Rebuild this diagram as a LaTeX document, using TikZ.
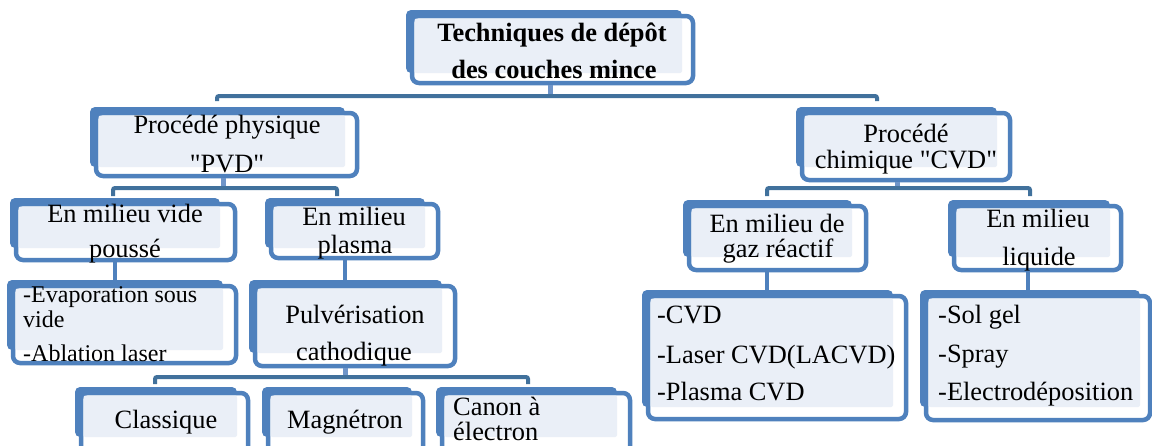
\documentclass[tikz,border=0pt]{standalone}
\usepackage{fontspec}
\setmainfont{Liberation Serif}[Ligatures=TeXOff]
\usetikzlibrary{fit}
\definecolor{bblue}{HTML}{4F81BD}
\definecolor{dblue}{HTML}{41719C}
\definecolor{sblue}{HTML}{6F95C9}
\definecolor{lfill}{HTML}{EAEFF7}
\newcommand\tbox[7]{%
  \fill[bblue, rounded corners=5pt] (#2,#3) rectangle (#4,#5);
  \draw[bblue, line width=4.5pt, fill=white, rounded corners=7pt] (#2+6,#3+6) rectangle (#6-2,#7-2);
  \fill[lfill, rounded corners=2pt] (#2+8.5,#3+8.5) rectangle (#4,#5);
  \coordinate (#1-nw) at (#2+4,#3+4);
  \coordinate (#1-se) at (#6,#7);
  \node[fit=(#1-nw)(#1-se), inner sep=0pt] (#1) {};
}
\tikzset{
  t/.style={inner sep=0pt, anchor=base, font=\fontsize{26.4}{30}\selectfont},
  tb/.style={t, font=\fontsize{26.4}{30}\selectfont\bfseries},
  tl/.style={t, anchor=base west},
  ts/.style={inner sep=0pt, anchor=base west, font=\fontsize{24}{28}\selectfont},
  stub/.style={sblue, line width=5pt},
  vline/.style={bblue, line width=4pt},
  bus/.style={dblue, line width=4pt, rounded corners=2pt},
}
\begin{document}
\begin{tikzpicture}[x=1pt,y=-1pt]
\useasboundingbox (0,0) rectangle (1152,445);
\clip (0,0) rectangle (1152,445);
\fill[white] (0,0) rectangle (1152,445);

% boxes: name, bx0, by0, bx1, by1, fx1, fy1
\tbox{title}{406}{10}{682}{73}{695}{85}
\tbox{pvd}{90}{107}{345}{167}{359}{178}
\tbox{cvd}{796}{107}{997}{167}{1012}{182}
\tbox{vide}{10}{198}{220}{248}{237}{262}
\tbox{plasma}{265}{198}{425}{248}{440}{260}
\tbox{gas}{683}{200}{852}{257}{868}{272}
\tbox{liq}{948}{200}{1110}{257}{1123}{272}
\tbox{evap}{7}{280}{223}{350}{238}{365}
\tbox{pulv}{249}{280}{442}{353}{457}{368}
\tbox{cvdl}{642}{290}{893}{407}{908}{421}
\tbox{soll}{920}{290}{1140}{407}{1152}{422}
\tbox{clas}{75}{387}{237}{437}{250}{470}
\tbox{magn}{262}{387}{412}{437}{425}{470}
\tbox{canon}{436}{387}{617}{437}{632}{470}

% connector coordinates
\coordinate (c1) at (550,96);
\coordinate (c1l) at (217,96);
\coordinate (c1r) at (877,96);
\coordinate (c2) at (223,188);
\coordinate (c2l) at (113,188);
\coordinate (c2r) at (337,188);
\coordinate (c3) at (897,188);
\coordinate (c3l) at (767,188);
\coordinate (c3r) at (1030,188);
\coordinate (c4) at (115,0);
\coordinate (c5) at (345,0);
\coordinate (c6) at (345,377);
\coordinate (c6l) at (155,377);
\coordinate (c6r) at (528,377);
\coordinate (c7) at (767,0);
\coordinate (c8) at (1028,0);

% connectors
\draw[stub] (title.south -| c1) -- (c1);
\draw[bus] ([yshift=-5pt]c1l) -- (c1l) -- (c1r) -- ([yshift=-5pt]c1r);
\draw[stub] (pvd.south -| c2) -- (c2);
\draw[bus] ([yshift=-8pt]c2l) -- (c2l) -- (c2r) -- ([yshift=-8pt]c2r);
\draw[stub] (cvd.south -| c3) -- (c3);
\draw[bus] ([yshift=-8pt]c3l) -- (c3l) -- (c3r) -- ([yshift=-8pt]c3r);
\draw[vline] (vide.south -| c4) -- (evap.north -| c4);
\draw[vline] (plasma.south -| c5) -- (pulv.north -| c5);
\draw[stub] (pulv.south -| c6) -- (c6);
\draw[bus] ([yshift=-7pt]c6l) -- (c6l) -- (c6r) -- ([yshift=-7pt]c6r);
\draw[vline] (gas.south -| c7) -- (cvdl.north -| c7);
\draw[vline] (liq.south -| c8) -- (soll.north -| c8);

% texts
\node[tb] (t1a) at (552,41) {Techniques de dépôt};
\node[tb] (t1b) at (554,78) {des couches mince};
\node[t] (pvda) at (227,133) {Procédé physique};
\node[t] (pvdb) at (227,172) {"PVD"};
\node[t] (cvda) at (906,142) {Procédé};
\node[t] (cvdb) at (906,168) {chimique "CVD"};
\node[t] (videa) at (125,222) {En milieu vide};
\node[t] (videb) at (125,257) {poussé};
\node[t] (plasa) at (354,225) {En milieu};
\node[t] (plasb) at (355,253) {plasma};
\node[t] (gasa) at (777,232) {En milieu de};
\node[t] (gasb) at (778,257) {gaz réactif};
\node[t] (liqa) at (1038,227) {En milieu};
\node[t] (liqb) at (1039,265) {liquide};
\node[ts] (evapa) at (23,302) {-Evaporation sous};
\node[ts] (evapb) at (23,327) {vide};
\node[ts] (evapc) at (23,361) {-Ablation laser};
\node[t] (pula) at (355,323) {Pulvérisation};
\node[t] (pulb) at (354,360) {cathodique};
\node[t] (cla) at (166,428) {Classique};
\node[t] (mag) at (345,428) {Magnétron};
\node[tl] (cana) at (453,415) {Canon à};
\node[tl] (canb) at (453,440) {électron};
\node[tl] (la) at (657,323) {-CVD};
\node[tl] (lb) at (657,363) {-Laser CVD(LACVD)};
\node[tl] (lc) at (657,400) {-Plasma CVD};
\node[tl] (sa) at (938,323) {-Sol gel};
\node[tl] (sb) at (938,362) {-Spray};
\node[tl] (sc) at (938,400) {-Electrodéposition};
\end{tikzpicture}
\end{document}
